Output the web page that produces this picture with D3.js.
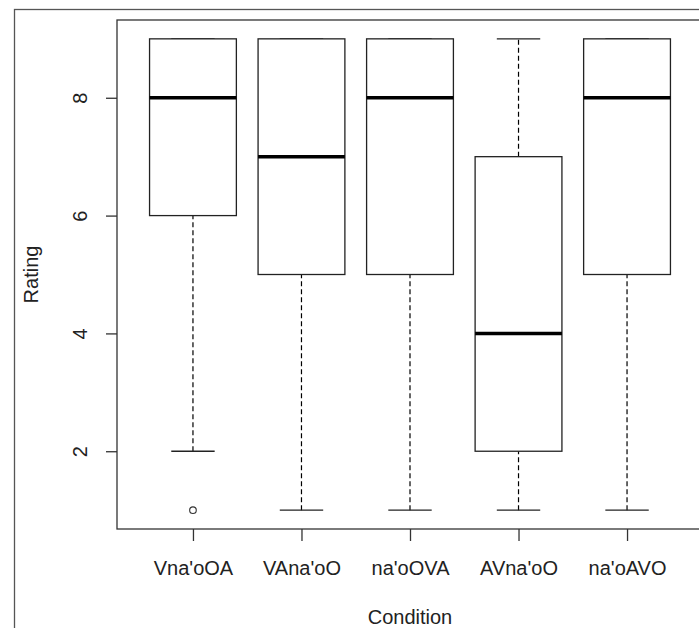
<!DOCTYPE html>
<html><head><meta charset="utf-8">
<script src="https://cdn.jsdelivr.net/npm/d3@7"></script>
<style>html,body{margin:0;padding:0;background:#fff;}svg{display:block;}</style>
</head><body>
<svg id="c" width="699" height="628"></svg>
<script>
const categories = ["Vna'oOA", "VAna'oO", "na'oOVA", "AVna'oO", "na'oAVO"];
const whiskerLow = [2, 1, 1, 1, 1];
const q1 = [6, 5, 5, 2, 5];
const median = [8, 7, 8, 4, 8];
const q3 = [9, 9, 9, 7, 9];
const whiskerHigh = [9, 9, 9, 9, 9];
const outliers = [[1], [], [], [], []];
const yTicks = [2, 4, 6, 8];

const svg = d3.select("#c");
const font = "'Liberation Sans', Arial, sans-serif";

const x = d3.scaleLinear().domain([0.3, 5.7]).range([117, 703]);
const y = d3.scaleLinear().domain([0.68, 9.32]).range([529, 20]);
const step = x(2) - x(1);
const bw = step * 0.8;

// outer figure border
svg.append("rect").attr("x", 14.5).attr("y", 9.5).attr("width", 720).attr("height", 700)
  .attr("fill", "none").attr("stroke", "#555").attr("stroke-width", 1.3);

const g = svg.append("g");
categories.forEach((c, i) => {
  const cx = x(i + 1);
  // whiskers dashed
  g.append("line").attr("x1", cx).attr("x2", cx).attr("y1", y(whiskerLow[i])).attr("y2", y(q1[i]))
    .attr("stroke", "#000").attr("stroke-width", 1.2).attr("stroke-dasharray", "5,3");
  g.append("line").attr("x1", cx).attr("x2", cx).attr("y1", y(q3[i])).attr("y2", y(whiskerHigh[i]))
    .attr("stroke", "#000").attr("stroke-width", 1.2).attr("stroke-dasharray", "5,3");
  // staples
  [whiskerLow[i], whiskerHigh[i]].forEach(v => {
    g.append("line").attr("x1", cx - bw / 4).attr("x2", cx + bw / 4).attr("y1", y(v)).attr("y2", y(v))
      .attr("stroke", "#222").attr("stroke-width", 1.3);
  });
  // box
  g.append("rect").attr("x", cx - bw / 2).attr("y", y(q3[i])).attr("width", bw)
    .attr("height", y(q1[i]) - y(q3[i])).attr("fill", "#fff").attr("stroke", "#222").attr("stroke-width", 1.3);
  // median
  g.append("line").attr("x1", cx - bw / 2).attr("x2", cx + bw / 2).attr("y1", y(median[i])).attr("y2", y(median[i]))
    .attr("stroke", "#000").attr("stroke-width", 3.5);
  outliers[i].forEach(v => {
    g.append("circle").attr("cx", cx).attr("cy", y(v)).attr("r", 3.3)
      .attr("fill", "none").attr("stroke", "#333").attr("stroke-width", 1.1);
  });
});

// plot box
svg.append("rect").attr("x", 117).attr("y", 20).attr("width", 700).attr("height", 509)
  .attr("fill", "none").attr("stroke", "#333").attr("stroke-width", 1.3);

// y axis
const yAxis = d3.axisLeft(y).tickValues(yTicks).tickSize(11).tickFormat(d3.format("d"));
const ya = svg.append("g").attr("transform", "translate(117,0)").call(yAxis);
ya.select(".domain").remove();
ya.selectAll(".tick line").attr("stroke", "#333").attr("stroke-width", 1.3);
ya.selectAll(".tick text").attr("font-family", font).attr("font-size", 20).attr("fill", "#222")
  .attr("transform", "rotate(-90)").attr("x", 0).attr("y", -30).attr("dy", 0)
  .attr("text-anchor", "middle");

// x axis
const xAxis = d3.axisBottom(x).tickValues(d3.range(1, categories.length + 1)).tickSize(12)
  .tickFormat(d => categories[d - 1]);
const xa = svg.append("g").attr("transform", "translate(0,529)").call(xAxis);
xa.select(".domain").remove();
xa.selectAll(".tick line").attr("stroke", "#333").attr("stroke-width", 1.3);
xa.selectAll(".tick text").attr("font-family", font).attr("font-size", 20).attr("fill", "#222")
  .attr("y", 46).attr("dy", 0);

// axis titles
svg.append("text").attr("x", x(3)).attr("y", 624).attr("text-anchor", "middle")
  .attr("font-family", font).attr("font-size", 20).attr("fill", "#222").text("Condition");
svg.append("text").attr("transform", `translate(38,${(20 + 529) / 2}) rotate(-90)`).attr("text-anchor", "middle")
  .attr("font-family", font).attr("font-size", 20).attr("fill", "#222").text("Rating");
</script>
</body></html>
